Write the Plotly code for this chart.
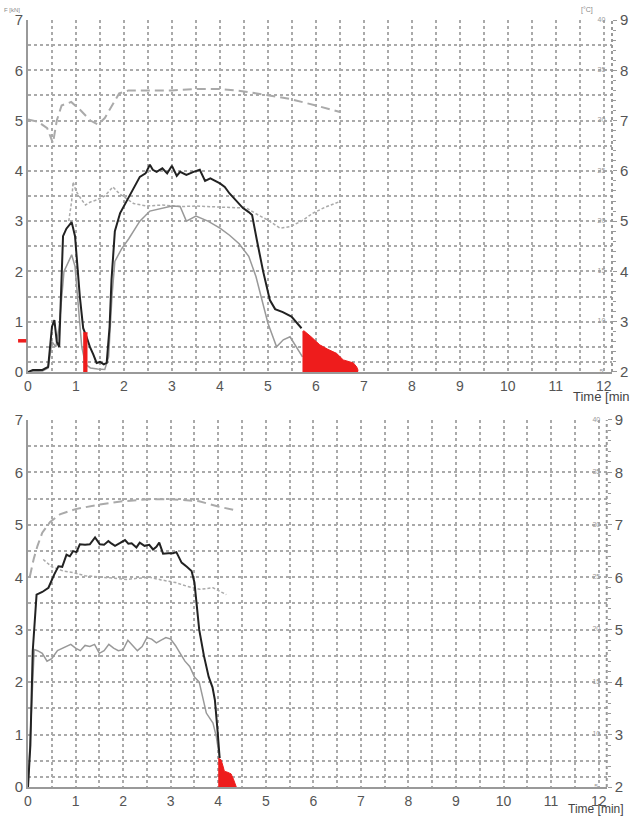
import plotly.graph_objects as go

# ---- top panel ----
top_black_t = [0, 0.1, 0.3, 0.42, 0.5, 0.55, 0.6, 0.65, 0.73, 0.8, 0.91, 0.98, 1.08, 1.15, 1.22, 1.29,
               1.36, 1.43, 1.5, 1.58, 1.64, 1.7, 1.74, 1.81, 1.92, 2.0, 2.13, 2.22, 2.33, 2.45, 2.54,
               2.6, 2.68, 2.8, 2.9, 3.0, 3.1, 3.17, 3.3, 3.45, 3.58, 3.69, 3.8, 4.0, 4.1, 4.2, 4.35,
               4.48, 4.6, 4.67, 4.77, 4.9, 5.04, 5.15, 5.31, 5.49, 5.7]
top_black_v = [0, 0.04, 0.04, 0.1, 0.9, 1.03, 0.6, 0.5, 2.7, 2.85, 2.98, 2.7, 1.5, 0.87, 0.7, 0.5,
               0.35, 0.18, 0.2, 0.15, 0.18, 0.9, 1.83, 2.8, 3.16, 3.3, 3.55, 3.68, 3.88, 3.95, 4.12,
               4.02, 3.98, 4.05, 3.95, 4.1, 3.9, 3.98, 3.92, 3.98, 4.02, 3.8, 3.85, 3.75, 3.68, 3.55, 3.4,
               3.26, 3.18, 3.12, 2.62, 2.0, 1.43, 1.25, 1.19, 1.1, 0.87]

top_gray_t = [0, 0.3, 0.42, 0.5, 0.58, 0.65, 0.75, 0.91, 0.98, 1.05, 1.12, 1.2, 1.3, 1.45, 1.6, 1.68,
              1.75, 1.81, 1.95, 2.1, 2.33, 2.54, 2.75, 3.0, 3.17, 3.3, 3.5, 3.75, 4.0, 4.2, 4.4, 4.6,
              4.75, 4.87, 5.0, 5.18, 5.32, 5.46, 5.63, 5.72]
top_gray_v = [0, 0.02, 0.08, 0.6, 0.5, 0.9, 2.0, 2.33, 2.1, 1.2, 0.5, 0.15, 0.08, 0.06, 0.05, 0.3,
              1.5, 2.2, 2.45, 2.65, 3.0, 3.2, 3.25, 3.3, 3.29, 3.0, 3.1, 3.0, 2.86, 2.72, 2.55, 2.3,
              1.9, 1.43, 0.97, 0.5, 0.64, 0.7, 0.44, 0.3]

# dashed curve, right axis units
top_dash_t = [0, 0.2, 0.4, 0.52, 0.6, 0.7, 0.9, 1.1, 1.3, 1.46, 1.6, 1.75, 1.9, 2.1, 2.5, 3.0, 3.5,
              4.0, 4.5, 5.0, 5.46, 6.0, 6.5]
top_dash_v = [7.02, 6.98, 6.85, 6.55, 7.0, 7.3, 7.37, 7.2, 7.0, 6.92, 7.05, 7.3, 7.54, 7.6, 7.6, 7.6,
              7.63, 7.63, 7.58, 7.5, 7.43, 7.3, 7.17]

top_dot_t = [0.85, 0.91, 0.94, 1.0, 1.1, 1.2, 1.3, 1.43, 1.6, 1.77, 1.9, 2.0, 2.2, 2.47, 2.8, 3.17,
             3.5, 4.0, 4.55, 4.8, 5.0, 5.25, 5.46, 5.7, 5.94, 6.2, 6.5]
top_dot_v = [3.0, 3.4, 3.78, 3.6, 3.45, 3.32, 3.38, 3.42, 3.5, 3.68, 3.55, 3.48, 3.35, 3.3, 3.32, 3.29,
             3.3, 3.28, 3.26, 3.12, 3.02, 2.86, 2.89, 3.0, 3.16, 3.28, 3.39]

top_red1_t = [1.15, 1.24]
top_red1_v = [0.78, 0.78]
top_red2_t = [5.72, 5.75, 5.9, 6.08, 6.25, 6.43, 6.57, 6.7, 6.78, 6.85, 6.88]
top_red2_v = [0.8, 0.82, 0.7, 0.54, 0.45, 0.37, 0.24, 0.2, 0.18, 0.1, 0.03]
top_red_mark_v = 0.62   # small red tick left of the y axis

# ---- bottom panel ----
bot_black_t = [0, 0.05, 0.1, 0.18, 0.3, 0.43, 0.55, 0.64, 0.72, 0.81, 0.88, 0.95, 1.02, 1.09, 1.2,
               1.3, 1.41, 1.51, 1.6, 1.69, 1.76, 1.83, 1.93, 2.04, 2.11, 2.18, 2.28, 2.35, 2.45, 2.55,
               2.63, 2.7, 2.76, 2.84, 2.95, 3.05, 3.12, 3.23, 3.34, 3.44, 3.5, 3.55, 3.6, 3.7, 3.8,
               3.88, 3.93, 3.99, 4.03]
bot_black_v = [0, 0.8, 2.6, 3.67, 3.72, 3.8, 4.05, 4.21, 4.2, 4.43, 4.4, 4.5, 4.48, 4.63, 4.62,
               4.63, 4.76, 4.63, 4.62, 4.69, 4.64, 4.6, 4.65, 4.71, 4.64, 4.65, 4.57, 4.66, 4.6, 4.62,
               4.53, 4.58, 4.66, 4.45, 4.46, 4.46, 4.48, 4.28, 4.2, 4.12, 3.9, 3.5, 3.0, 2.5, 2.1,
               1.9, 1.66, 1.03, 0.55]

bot_gray_t = [0, 0.06, 0.13, 0.2, 0.3, 0.4, 0.5, 0.62, 0.75, 0.9, 1.0, 1.1, 1.2, 1.3, 1.4, 1.5, 1.6,
              1.7, 1.8, 1.9, 2.0, 2.1, 2.2, 2.3, 2.4, 2.5, 2.6, 2.7, 2.8, 2.9, 3.0, 3.1, 3.2, 3.3, 3.4,
              3.5, 3.6, 3.68, 3.75, 3.89, 3.96, 4.03]
bot_gray_v = [0, 1.2, 2.62, 2.6, 2.55, 2.4, 2.45, 2.6, 2.65, 2.72, 2.65, 2.6, 2.7, 2.68, 2.72, 2.55,
              2.6, 2.72, 2.65, 2.6, 2.62, 2.8, 2.7, 2.6, 2.68, 2.85, 2.82, 2.75, 2.8, 2.85, 2.82, 2.7,
              2.55, 2.4, 2.3, 2.1, 2.0, 1.66, 1.41, 1.22, 0.96, 0.55]

bot_dash_t = [0.04, 0.12, 0.2, 0.3, 0.46, 0.67, 1.0, 1.51, 2.0, 2.56, 3.0, 3.6, 4.0, 4.35]
bot_dash_v = [6.02, 6.35, 6.6, 6.85, 7.05, 7.2, 7.3, 7.39, 7.45, 7.49, 7.49, 7.45, 7.35, 7.28]

bot_dot_t = [0.32, 0.5, 0.74, 0.95, 1.2, 1.51, 1.8, 2.07, 2.3, 2.56, 2.8, 3.1, 3.34, 3.61, 3.89, 4.17]
bot_dot_v = [4.34, 4.2, 4.12, 4.09, 4.03, 4.0, 3.98, 3.96, 3.98, 4.0, 3.95, 3.9, 3.83, 3.77, 3.8, 3.67]

bot_red_t = [4.0, 4.06, 4.1, 4.13, 4.2, 4.27, 4.32, 4.36, 4.38]
bot_red_v = [0.55, 0.52, 0.4, 0.3, 0.28, 0.25, 0.15, 0.06, 0.0]

x_ticks = [i * 0.5 for i in range(25)]
x_text = [str(int(v)) if v == int(v) else '' for v in x_ticks]
y_ticks = [0, 0.2] + [i * 0.5 for i in range(1, 15)]
y_text = [str(int(v)) if v == int(v) else '' for v in y_ticks]
right_ticks = [2, 3, 4, 5, 6, 7, 8, 9]
inner_labels = ['5', '10', '15', '20', '25', '30', '35', '40']

Y_MAX = 7
BLACK = '#222222'
GRAY = '#999999'
LIGHT = '#aaaaaa'
RED = '#ee1c1c'
FONT = 'Liberation Sans, Arial, sans-serif'

fig = go.Figure()


def add_panel(xa, ya, yr, black, gray, dash, dot, reds):
    fig.add_trace(go.Scatter(x=dash[0], y=dash[1], xaxis=xa, yaxis=yr, mode='lines',
                             line=dict(color=LIGHT, width=2, dash='9px,5px')))
    fig.add_trace(go.Scatter(x=dot[0], y=dot[1], xaxis=xa, yaxis=ya, mode='lines',
                             line=dict(color=LIGHT, width=1.5, dash='3px,2px')))
    fig.add_trace(go.Scatter(x=gray[0], y=gray[1], xaxis=xa, yaxis=ya, mode='lines',
                             line=dict(color=GRAY, width=1.5)))
    fig.add_trace(go.Scatter(x=black[0], y=black[1], xaxis=xa, yaxis=ya, mode='lines',
                             line=dict(color=BLACK, width=2)))
    for rt, rv in reds:
        fig.add_trace(go.Scatter(x=rt, y=rv, xaxis=xa, yaxis=ya, mode='lines', fill='tozeroy',
                                 fillcolor=RED, line=dict(color=RED, width=1)))
    # tiny secondary scale labels just inside the right axis
    fig.add_trace(go.Scatter(x=[11.95] * len(right_ticks), y=right_ticks, xaxis=xa, yaxis=yr,
                             mode='text', text=inner_labels, textposition='middle center',
                             cliponaxis=False,
                             textfont=dict(size=7, color='#999999', family=FONT)))


add_panel('x', 'y', 'y3', (top_black_t, top_black_v), (top_gray_t, top_gray_v),
          (top_dash_t, top_dash_v), (top_dot_t, top_dot_v),
          [(top_red1_t, top_red1_v), (top_red2_t, top_red2_v)])
add_panel('x2', 'y2', 'y4', (bot_black_t, bot_black_v), (bot_gray_t, bot_gray_v),
          (bot_dash_t, bot_dash_v), (bot_dot_t, bot_dot_v),
          [(bot_red_t, bot_red_v)])

xcommon = dict(range=[0, 12.17], tickvals=x_ticks, ticktext=x_text, showgrid=True,
               gridcolor=LIGHT, griddash='3px,3px', gridwidth=1.5, showline=True,
               linecolor=GRAY, linewidth=2, zeroline=False, ticks='', automargin=False,
               tickfont=dict(size=14, color='#555555', family=FONT))
ycommon = dict(range=[0, Y_MAX], tickvals=y_ticks, ticktext=y_text, showgrid=True,
               gridcolor=LIGHT, griddash='3px,3px', gridwidth=1.5, showline=True,
               linecolor=GRAY, linewidth=2, zeroline=False, ticks='', automargin=False,
               tickfont=dict(size=15, color='#555555', family=FONT))
rcommon = dict(range=[2, 9], tickvals=right_ticks, side='right', showgrid=False, zeroline=False,
               showline=False, ticks='outside', ticklen=4, tickcolor=GRAY, automargin=False,
               minor=dict(dtick=0.2, ticks='outside', ticklen=3, tickcolor=GRAY),
               tickfont=dict(size=15, color='#555555', family=FONT))

fig.update_layout(
    width=633, height=819,
    margin=dict(l=28, r=21, t=20, b=32),
    paper_bgcolor='white', plot_bgcolor='white',
    showlegend=False,
    xaxis=dict(domain=[0, 1], anchor='y', **xcommon),
    yaxis=dict(domain=[0.5411, 1], anchor='x', **ycommon),
    xaxis2=dict(domain=[0, 0.991], anchor='y2', **xcommon),
    yaxis2=dict(domain=[0, 0.4785], anchor='x2', **ycommon),
    yaxis3=dict(overlaying='y', anchor='x', **rcommon),
    yaxis4=dict(overlaying='y2', anchor='x2', **rcommon),
)

# dotted right-hand axis lines
for xr, yr in [('x domain', 'y domain'), ('x2 domain', 'y2 domain')]:
    fig.add_shape(type='line', xref=xr, yref=yr, x0=1, x1=1, y0=0, y1=1,
                  line=dict(color=GRAY, width=2, dash='dot'))

# red tick sitting just outside the left axis of the top panel
fig.add_shape(type='line', xref='x domain', yref='y domain', x0=-0.017, x1=-0.003,
              y0=top_red_mark_v / Y_MAX, y1=top_red_mark_v / Y_MAX,
              line=dict(color=RED, width=3.5))

# axis titles and small unit labels
fig.add_annotation(text='Time [min', xref='paper', yref='paper', x=0.93, y=0.509,
                   xanchor='left', yanchor='middle', showarrow=False,
                   font=dict(size=13, color='#444444', family=FONT))
fig.add_annotation(text='Time [min]', xref='paper', yref='paper', x=0.922, y=-0.029,
                   xanchor='left', yanchor='middle', showarrow=False,
                   font=dict(size=12, color='#444444', family=FONT))
fig.add_annotation(text='F [kN]', xref='paper', yref='paper', x=-0.045, y=1.013,
                   xanchor='left', yanchor='middle', showarrow=False,
                   font=dict(size=6, color='#888888', family=FONT))
fig.add_annotation(text='[°C]', xref='paper', yref='paper', x=0.958, y=1.013,
                   xanchor='center', yanchor='middle', showarrow=False,
                   font=dict(size=7, color='#888888', family=FONT))

# the page keeps the browser's default body margin; drop it so the figure fills the window
fig.write_html('out.html', config={'displayModeBar': False},
               post_script="document.body.style.margin='0';")
